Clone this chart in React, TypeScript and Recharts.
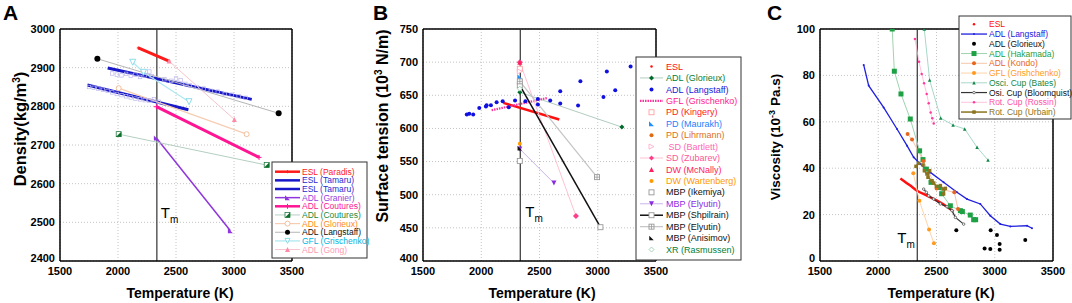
import React from 'react';
import { LineChart, Line, XAxis, YAxis, CartesianGrid, ReferenceLine } from 'recharts';

const FONT = '"Liberation Sans", Arial, Helvetica, sans-serif';
type P = [number, number];

// ---------- shared axes ----------
const tempTicks = [1500, 2000, 2500, 3000, 3500];
const meltingPoint = 2335;
const densityTicks = [2400, 2500, 2600, 2700, 2800, 2900, 3000];
const tensionTicks = [400, 450, 500, 550, 600, 650, 700, 750];
const viscosityTicks = [0, 20, 40, 60, 80, 100];

// ---------- Panel A: density (T [K], kg/m3) ----------
const densParadis: P[] = [[2175, 2951], [2440, 2917]];
const densTamaru1: P[] = [[1911, 2899], [3153, 2818]];
const densTamaru2: P[] = [[1736, 2855], [2607, 2791]];
const densTamaruRaw: P[] = [
  [1950, 2885], [1990, 2882], [2030, 2880], [2070, 2884], [2110, 2879], [2150, 2882], [2190, 2876],
  [2230, 2880], [2270, 2890], [2290, 2878], [2400, 2870], [2460, 2866], [2500, 2872], [2540, 2868],
  [2580, 2858], [2620, 2854], [2680, 2850], [2740, 2846], [2800, 2840], [2860, 2838], [2920, 2832],
  [2980, 2830], [3040, 2826], [3100, 2822],
  [1750, 2850], [1790, 2848], [1830, 2846], [1870, 2843], [1910, 2840], [1950, 2836], [1990, 2832],
  [2030, 2829], [2070, 2826], [2110, 2823], [2150, 2820], [2190, 2818], [2230, 2816], [2270, 2815],
  [2310, 2818], [2350, 2812],
];
const densGranier: P[] = [[2331, 2718], [2969, 2478]];
const densCouturesPink: P[] = [[2331, 2799], [3216, 2668]];
const densCouturesGreen: P[] = [[2006, 2728], [3282, 2648]];
const densGlorieux: P[] = [[2006, 2847], [3109, 2728]];
const densLangstaff: P[] = [[1822, 2923], [3385, 2782]];
const densGrischenko: P[] = [[2127, 2914], [2220, 2888], [2612, 2812]];
const densGong: P[] = [[2440, 2917], [3003, 2766]];

// ---------- Panel B: surface tension (10^3 N/m) ----------
const stESL: P[] = [[2190, 638.5], [2670, 613.5]];
const stGlorieux: P[] = [[2331, 654.5], [3207, 602]];
const stLangstaff: P[] = [
  [1876, 621], [1897, 622], [1931, 621], [1983, 631], [2040, 633], [2046, 635], [2083, 635],
  [2132, 639.5], [2184, 641], [2236, 632], [2290, 642], [2379, 641], [2486, 644.5], [2486, 636],
  [2592, 642], [2678, 656], [2678, 637.5], [2831, 634.5], [2851, 671], [3049, 647.5], [3078, 686],
  [3150, 657.5], [3282, 693.5],
];
const stGrischenko: P[] = [[2089, 627.5], [2569, 646]];
const stKingery: P[] = [[2331, 690]];
const stMaurakh: P[] = [[2331, 678]];
const stLihrmann: P[] = [[2331, 665]];
const stBartlett: P[] = [[2331, 686]];
const stZubarev: P[] = [[2331, 700], [2813, 468]];
const stMcNally: P[] = [[2331, 700]];
const stWartenberg: P[] = [[2331, 577]];
const stIkemiya: P[] = [[2331, 551]];
const stElyutinP: P[] = [[2331, 569], [2624, 517.5]];
const stShpilrain: P[] = [[2331, 665], [3023, 451]];
const stElyutinG: P[] = [[2331, 671], [2994, 526.5]];
const stAnisimov: P[] = [[2331, 570]];
const stRasmussen: P[] = [[2331, 660]];

// ---------- Panel C: viscosity (10^-3 Pa.s) ----------
const viESL: P[] = [[2190, 35.6], [2275, 32.5], [2333, 30.3], [2418, 28.2], [2504, 26.0], [2590, 23.4], [2647, 21.3]];
const viLangstaff: P[] = [
  [1875, 84.5], [1918, 75.6], [2046, 66.2], [2161, 56.9], [2247, 49.7], [2304, 44.7], [2361, 41.8],
  [2447, 38.2], [2561, 33.9], [2676, 29.6], [2762, 26.7], [2876, 24.6], [2962, 19.5], [3048, 15.9],
  [3134, 14.9], [3277, 15.2], [3320, 14.1],
];
const viGlorieux: P[] = [[2670, 13.3], [2965, 13.3], [3019, 11.2], [3262, 9.0], [2913, 5.4], [2962, 5.2], [3042, 7.3], [3042, 4.9]];
const viHakamada: P[] = [
  [2120, 100], [2138, 81.8], [2195, 72.0], [2275, 61.2], [2355, 47.5], [2384, 43.7], [2413, 39.6],
  [2453, 33.9], [2521, 31.7], [2544, 29.0], [2619, 23.8], [2705, 21.7], [2722, 21.3], [2790, 19.8],
  [2819, 17.8], [2836, 17.8],
];
const viKondo: P[] = [[2252, 54.7], [2290, 52.4], [2387, 43.1], [2501, 31.3], [2653, 29.6], [2685, 22.4]];
const viGrishchenko: P[] = [[2301, 37.8], [2353, 26.0], [2436, 13.6], [2478, 7.6]];
const viBates: P[] = [[2395, 100], [2441, 78.0], [2536, 61.6], [2642, 58.6], [2742, 56.9], [2848, 49.0], [2942, 43.5]];
const viBloomquist: P[] = [
  [2390, 31.0], [2413, 29.6], [2433, 28.1], [2476, 26.7], [2533, 24.6], [2590, 23.4], [2633, 21.7],
  [2662, 18.8], [2733, 15.9],
];
const viRossin: P[] = [[2315, 95.7], [2350, 85.9], [2373, 80.6], [2393, 76.6], [2416, 72.0], [2433, 68.0], [2450, 64.0], [2464, 61.5], [2476, 59.3]];
const viUrbain: P[] = [
  [2324, 40.8], [2347, 42.1], [2384, 41.4], [2396, 38.9], [2418, 37.5], [2441, 38.9], [2427, 36.1],
  [2461, 34.6], [2476, 33.6], [2499, 32.2], [2533, 32.5], [2556, 31.0], [2576, 31.3], [2561, 28.9],
];

// ---------- markers ----------
type Shape = 'none' | 'circle' | 'ocircle' | 'square' | 'osquare' | 'lsquare' | 'xsquare' | 'halfsq' | 'triUp' |
  'triDown' | 'otriDown' | 'otriRight' | 'corner' | 'diamond' | 'odiamond' | 'plus';

function marker(shape: Shape, c: string, s: number, cx: number, cy: number, key?: React.Key) {
  if (cx == null || cy == null || Number.isNaN(cx) || Number.isNaN(cy)) return <g key={key} />;
  const h = s / 2;
  switch (shape) {
    case 'circle': return <circle key={key} cx={cx} cy={cy} r={h} fill={c} />;
    case 'ocircle': return <circle key={key} cx={cx} cy={cy} r={h} fill="#fff" stroke={c} strokeWidth={0.9} />;
    case 'square': return <rect key={key} x={cx - h} y={cy - h} width={s} height={s} fill={c} />;
    case 'osquare': return <rect key={key} x={cx - h} y={cy - h} width={s} height={s} fill="#fff" stroke={c} strokeWidth={0.9} />;
    case 'lsquare': return <rect key={key} x={cx - h} y={cy - h} width={s} height={s} fill="none" stroke={c} strokeWidth={0.7} />;
    case 'xsquare': return (
      <g key={key}>
        <rect x={cx - h} y={cy - h} width={s} height={s} fill="#fff" stroke={c} strokeWidth={0.9} />
        <line x1={cx - h} y1={cy} x2={cx + h} y2={cy} stroke={c} strokeWidth={0.8} />
        <line x1={cx} y1={cy - h} x2={cx} y2={cy + h} stroke={c} strokeWidth={0.8} />
      </g>);
    case 'halfsq': return (
      <g key={key}>
        <rect x={cx - h} y={cy - h} width={s} height={s} fill="#fff" stroke={c} strokeWidth={0.7} />
        <polygon points={`${cx + h},${cy - h} ${cx + h},${cy + h} ${cx - h},${cy + h}`} fill={c} />
      </g>);
    case 'triUp': return <polygon key={key} points={`${cx},${cy - h} ${cx + h},${cy + h} ${cx - h},${cy + h}`} fill={c} />;
    case 'triDown': return <polygon key={key} points={`${cx - h},${cy - h} ${cx + h},${cy - h} ${cx},${cy + h}`} fill={c} />;
    case 'otriDown': return <polygon key={key} points={`${cx - h},${cy - h} ${cx + h},${cy - h} ${cx},${cy + h}`} fill="#fff" stroke={c} strokeWidth={0.9} />;
    case 'otriRight': return <polygon key={key} points={`${cx - h},${cy - h} ${cx + h},${cy} ${cx - h},${cy + h}`} fill="#fff" stroke={c} strokeWidth={0.9} />;
    case 'corner': return <polygon key={key} points={`${cx - h},${cy - h} ${cx - h},${cy + h} ${cx + h},${cy + h}`} fill={c} />;
    case 'diamond': return <polygon key={key} points={`${cx},${cy - h} ${cx + h},${cy} ${cx},${cy + h} ${cx - h},${cy}`} fill={c} />;
    case 'odiamond': return <polygon key={key} points={`${cx},${cy - h} ${cx + h},${cy} ${cx},${cy + h} ${cx - h},${cy}`} fill="#fff" stroke={c} strokeWidth={0.9} />;
    case 'plus': return (
      <g key={key}>
        <line x1={cx - h} y1={cy} x2={cx + h} y2={cy} stroke={c} strokeWidth={1} />
        <line x1={cx} y1={cy - h} x2={cx} y2={cy + h} stroke={c} strokeWidth={1} />
      </g>);
    default: return <g key={key} />;
  }
}

interface S {
  name: string; data: P[]; line: string; width: number; shape: Shape; mColor: string; mSize: number;
  text: string; legendLine: boolean; dash?: string; curve?: 'linear' | 'monotone'; hidden?: boolean;
}

const mk = (name: string, data: P[], line: string, width: number, shape: Shape, mColor: string, mSize: number,
  text: string, legendLine: boolean, extra: Partial<S> = {}): S =>
  ({ name, data, line, width, shape, mColor, mSize, text, legendLine, ...extra });

const seriesA: S[] = [
  mk('ESL (Paradis)', densParadis, '#ff1a1a', 3, 'plus', '#ff1a1a', 3, '#ff1a1a', true),
  mk('ESL (Tamaru)', densTamaru1, '#1818c8', 3, 'none', '#1818c8', 3, '#2a2ad0', true),
  mk('ESL (Tamaru)', densTamaru2, '#1818c8', 3, 'none', '#1818c8', 3, '#2a2ad0', true),
  mk('ADL (Granier)', densGranier, '#8f35dd', 1.5, 'corner', '#8f35dd', 5, '#9a40e0', true),
  mk('ADL (Coutures)', densCouturesPink, '#ff1493', 3, 'plus', '#ff1493', 5, '#ff1493', true),
  mk('ADL (Coutures)', densCouturesGreen, '#b4cfc2', 1, 'halfsq', '#0b6e2a', 5, '#1a8a3a', true),
  mk('ADL (Glorieux)', densGlorieux, '#f6cdb2', 1.2, 'ocircle', '#f0b890', 5, '#ff8c1a', true),
  mk('ADL (Langstaff)', densLangstaff, '#b5b5b5', 1, 'circle', '#000', 6, '#111', true),
  mk('GFL (Grischenko)', densGrischenko, '#b0e8f0', 1.3, 'otriDown', '#80d8e8', 6, '#00b4e0', true),
  mk('ADL (Gong)', densGong, '#f8c4cc', 1, 'triUp', '#ff8aa8', 5, '#ff9ab4', true),
];
const tamaruRawSeries: S = mk('', densTamaruRaw, 'none', 0, 'lsquare', '#bdb8ea', 3.5, '#000', false, { hidden: true });

const seriesB: S[] = [
  mk('ESL', stESL, '#ff1010', 2.5, 'none', '#ff1010', 2.5, '#ff1010', false),
  mk('ADL (Glorieux)', stGlorieux, '#b2ccc0', 1, 'diamond', '#006a2a', 5, '#00803a', true),
  mk('ADL (Langstaff)', stLangstaff, 'none', 0, 'circle', '#1010e0', 4, '#1a1ad8', false),
  mk('GFL (Grischenko)', stGrischenko, '#ff3399', 2.2, 'none', '#ff3399', 2.5, '#ff1a8c', true, { dash: '1.5 1' }),
  mk('PD (Kingery)', stKingery, 'none', 0, 'osquare', '#ffa0a0', 5, '#ff2020', false),
  mk('PD (Maurakh)', stMaurakh, 'none', 0, 'corner', '#1e90ff', 5, '#1e80ff', false),
  mk('PD (Lihrmann)', stLihrmann, 'none', 0, 'circle', '#e06a10', 4, '#e07020', false),
  mk(' SD (Bartlett)', stBartlett, 'none', 0, 'otriRight', '#ffb0c8', 5, '#ff69b4', false),
  mk('SD (Zubarev)', stZubarev, '#ffc2d2', 1, 'diamond', '#ff3d8b', 6, '#ff5599', true),
  mk('DW (McNally)', stMcNally, 'none', 0, 'triUp', '#ff2060', 5, '#ff2060', false),
  mk('DW (Wartenberg)', stWartenberg, 'none', 0, 'circle', '#ff9900', 4, '#ff9900', false),
  mk('MBP (Ikemiya)', stIkemiya, 'none', 0, 'osquare', '#999', 5, '#111', false),
  mk('MBP (Elyutin)', stElyutinP, '#cbb5ea', 1, 'triDown', '#8a2be2', 5, '#8a2be2', true),
  mk('MBP (Shpilrain)', stShpilrain, '#111', 1.5, 'osquare', '#999', 5, '#111', true),
  mk('MBP (Elyutin)', stElyutinG, '#c4c4c4', 1.2, 'xsquare', '#999', 5, '#111', true),
  mk('MBP (Anisimov)', stAnisimov, 'none', 0, 'corner', '#111', 4.5, '#111', false),
  mk('XR (Rasmussen)', stRasmussen, 'none', 0, 'odiamond', '#9ccfb0', 5, '#00803a', false),
];

const seriesC: S[] = [
  mk('ESL', viESL, '#ff1010', 2.5, 'none', '#ff1010', 2.5, '#ff1010', false, { curve: 'monotone' }),
  mk('ADL (Langstaff)', viLangstaff, '#2020e0', 1.3, 'circle', '#2020e0', 2, '#2020e0', true),
  mk('ADL (Glorieux)', viGlorieux, 'none', 0, 'circle', '#000', 4, '#111', false),
  mk('ADL (Hakamada)', viHakamada, '#9ed4ae', 1, 'square', '#1ea044', 5, '#1ea044', true),
  mk('ADL (Kondo)', viKondo, '#f5c6a8', 1, 'circle', '#e8651e', 4, '#e8651e', true),
  mk('GFL (Grishchenko)', viGrishchenko, '#ffd4a8', 1, 'circle', '#ff9a1e', 4, '#ff9a1e', true),
  mk('Osci. Cup (Bates)', viBates, '#a8d8c8', 1, 'triUp', '#108848', 3.5, '#108848', true),
  mk('Osi. Cup (Bloomquist)', viBloomquist, '#333', 1.2, 'ocircle', '#666', 2.5, '#111', true),
  mk('Rot. Cup (Rossin)', viRossin, '#ffb4d4', 0.8, 'circle', '#ff3aa0', 2.5, '#ff4fa8', true),
  mk('Rot. Cup (Urbain)', viUrbain, '#8b7320', 1.5, 'square', '#8b7320', 3.5, '#8b7320', true),
];

// ---------- chart panel ----------
const tickStyle = { fontSize: 11, fontWeight: 700, fill: '#000', fontFamily: FONT };

function makeYTick(minVal: number) {
  return (p: any) => {
    const v = p.payload?.value;
    const shift = v === minVal ? -3 : 0;
    return (
      <text x={p.x} y={p.y + shift} dy="0.355em" textAnchor="end" fontSize={11} fontWeight={700}
        fill="#000" fontFamily={FONT}>{v}</text>
    );
  };
}

function Panel(props: {
  left: number; width: number; plotL: number; plotR: number; yDomain: [number, number];
  yTicks: number[]; series: S[]; tmDx: number; tmDy: number;
}) {
  const { left, width, plotL, plotR, yDomain, yTicks, series, tmDx, tmDy } = props;
  const tmLabel = (p: any) => {
    const vb = p.viewBox || {};
    return (
      <text x={(vb.x ?? 0) + tmDx} y={(vb.y ?? 0) + tmDy} fontSize={15} fontFamily={FONT} fill="#000">
        T<tspan fontSize={10} dy={5}>m</tspan>
      </text>
    );
  };
  return (
    <div style={{ position: 'absolute', left, top: 0 }}>
      <LineChart width={width} height={303} margin={{ top: 29, right: width - plotR, bottom: 20, left: 0 }}>
        <CartesianGrid stroke="#c4c4c4" strokeDasharray="1 2" />
        <XAxis type="number" dataKey="x" domain={[1500, 3500]} ticks={tempTicks} allowDataOverflow interval={0}
          height={22} tickSize={0} tickMargin={6} axisLine={{ stroke: '#000', strokeWidth: 1.5 }} tick={tickStyle} />
        <YAxis type="number" dataKey="y" domain={yDomain} ticks={yTicks} allowDataOverflow interval={0}
          width={plotL} tickSize={0} tickMargin={5} axisLine={{ stroke: '#000', strokeWidth: 1.5 }} tick={makeYTick(yDomain[0])} />
        <ReferenceLine y={yDomain[1]} stroke="#000" strokeWidth={1.5} />
        <ReferenceLine x={3500} stroke="#000" strokeWidth={1.5} />
        <ReferenceLine x={meltingPoint} stroke="#333" strokeWidth={1.2} label={tmLabel} />
        {series.map((s, i) => (
          <Line key={`s${i}`} data={s.data.map(([x, y]) => ({ x, y }))} dataKey="y" type={s.curve ?? 'linear'}
            stroke={s.width > 0 ? s.line : 'none'} strokeWidth={s.width || 1} strokeDasharray={s.dash}
            isAnimationActive={false} activeDot={false}
            dot={s.shape === 'none' ? false : (p: any) => marker(s.shape, s.mColor, s.mSize, p.cx, p.cy, `d${i}-${p.index}`)} />
        ))}
      </LineChart>
    </div>
  );
}

// ---------- legend (overlay) ----------
function LegendBox(props: {
  x: number; y: number; w: number; h: number; row0: number; rowH: number; sx0: number; sx1: number;
  tx: number; fs: number; items: S[];
}) {
  const { x, y, w, h, row0, rowH, sx0, sx1, tx, fs, items } = props;
  return (
    <g>
      <rect x={x} y={y} width={w} height={h} fill="#fff" stroke="#333" strokeWidth={1} />
      {items.map((s, i) => {
        const cy = row0 + i * rowH;
        return (
          <g key={i}>
            {s.legendLine && s.width > 0 && (
              <line x1={sx0} x2={sx1} y1={cy} y2={cy} stroke={s.line} strokeWidth={Math.min(s.width, 2.5)} strokeDasharray={s.dash} />
            )}
            {s.shape !== 'none'
              ? marker(s.shape, s.mColor, Math.min(s.mSize, 5), (sx0 + sx1) / 2, cy, 'm')
              : !s.legendLine && marker('circle', s.mColor, 2.5, (sx0 + sx1) / 2, cy, 'm')}
            <text x={tx} y={cy} dy="0.35em" fontSize={fs} fill={s.text} fontFamily={FONT} style={{ whiteSpace: 'pre' }}>{s.name}</text>
          </g>
        );
      })}
    </g>
  );
}

export default function App() {
  const axisTitle = { fontFamily: FONT, fontWeight: 700, fill: '#000' } as const;
  return (
    <div style={{ position: 'absolute', left: 0, top: 0, width: 1072, height: 303, background: '#fff', overflow: 'hidden' }}>
      <Panel left={0} width={360} plotL={60} plotR={292} yDomain={[2400, 3000]} yTicks={densityTicks}
        series={[tamaruRawSeries, ...seriesA]} tmDx={4} tmDy={189} />
      <Panel left={360} width={360} plotL={63} plotR={296} yDomain={[400, 750]} yTicks={tensionTicks}
        series={seriesB} tmDx={5} tmDy={188} />
      <Panel left={720} width={352} plotL={100} plotR={333} yDomain={[0, 100]} yTicks={viscosityTicks}
        series={seriesC} tmDx={-20} tmDy={214} />
      <svg width={1072} height={303} style={{ position: 'absolute', left: 0, top: 0, pointerEvents: 'none' }}>
        <text x={3} y={20} fontSize={21} {...axisTitle}>A</text>
        <text x={373} y={20} fontSize={21} {...axisTitle}>B</text>
        <text x={767} y={20} fontSize={21} {...axisTitle}>C</text>
        <text x={180} y={298} fontSize={14} textAnchor="middle" {...axisTitle}>Temperature (K)</text>
        <text x={542} y={298} fontSize={14} textAnchor="middle" {...axisTitle}>Temperature (K)</text>
        <text x={941} y={298} fontSize={14} textAnchor="middle" {...axisTitle}>Temperature (K)</text>
        <text transform="translate(20,129) rotate(-90)" textAnchor="middle" dy="0.35em" fontSize={16.5} {...axisTitle}>
          Density(kg/m<tspan dy={-6} fontSize={10}>3</tspan><tspan dy={6}>)</tspan>
        </text>
        <text transform="translate(382,126) rotate(-90)" textAnchor="middle" dy="0.35em" fontSize={16} {...axisTitle}>
          Surface tension (10<tspan dy={-6} fontSize={10}>3</tspan><tspan dy={6}> N/m)</tspan>
        </text>
        <text transform="translate(775,137) rotate(-90)" textAnchor="middle" dy="0.35em" fontSize={13.5} {...axisTitle}>
          Viscosity (10<tspan dy={-5} fontSize={9}>-3</tspan><tspan dy={5}> Pa.s)</tspan>
        </text>
        <LegendBox x={272} y={162} w={95} h={96} row0={171.7} rowH={8.65} sx0={275} sx1={300} tx={302} fs={8.5} items={seriesA} />
        <LegendBox x={636} y={57} w={105} h={203} row0={66.5} rowH={11.44} sx0={640} sx1={663} tx={666} fs={9} items={seriesB} />
        <LegendBox x={959} y={16} w={112} h={103} row0={24.3} rowH={9.75} sx0={961} sx1={987} tx={989} fs={8.5} items={seriesC} />
      </svg>
    </div>
  );
}
